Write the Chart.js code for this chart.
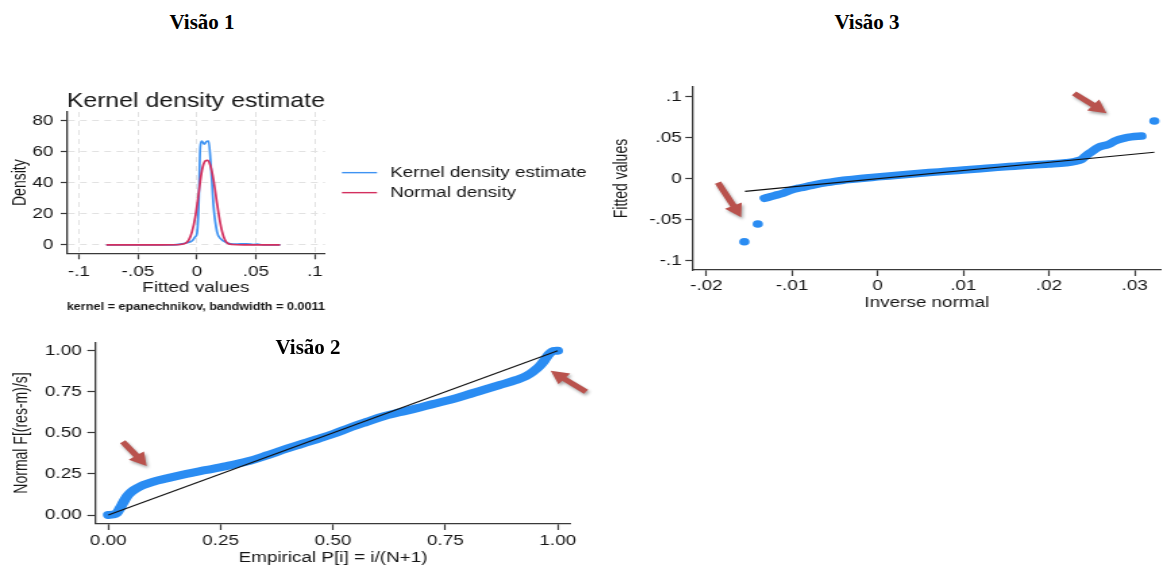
<!DOCTYPE html>
<html><head><meta charset="utf-8">
<script src="https://cdn.jsdelivr.net/npm/chart.js@4.4.1/dist/chart.umd.min.js"></script>
<style>
html,body{margin:0;padding:0;background:#fff;}
body{width:1166px;height:568px;overflow:hidden;position:relative;}
.panel{position:absolute;transform-origin:0 0;transform:scaleX(1.35);}
.panel canvas{display:block;}
.cap{position:absolute;font:bold 21px 'Liberation Serif','Times New Roman',serif;color:#000;line-height:24px;white-space:nowrap;transform:translateX(-50%);}
</style></head>
<body>
<div class="panel" style="left:0;top:60px;"><canvas id="c1" width="444" height="260"></canvas></div>
<div class="panel" style="left:600px;top:80px;"><canvas id="c3" width="419" height="240"></canvas></div>
<div class="panel" style="left:0;top:330px;"><canvas id="c2" width="444" height="238"></canvas></div>
<div class="cap" style="left:202px;top:10px;">Visão 1</div>
<div class="cap" style="left:867px;top:10px;">Visão 3</div>
<div class="cap" style="left:308px;top:335px;">Visão 2</div>
<script>
// ---------- DATA ----------
// Visão 1: kernel density
const kdeX = [-0.0768,-0.05,-0.02,-0.014,-0.0085,-0.004,-0.0014,0,0.0014,0.0028,0.004,0.0062,0.0085,0.0099,0.0119,0.0141,0.017,0.0198,0.0254,0.031,0.037,0.042,0.048,0.051,0.056,0.0705];
const kdeY = [0,0,0,0.4,1.3,2.6,5.2,7.3,24.5,63,67,65,66.9,67,50,24.5,8.4,4.1,1.3,0.4,0.6,0.6,0.2,0.4,0,0];
const normX = [-0.0768,-0.03,-0.014,-0.0099,-0.007,-0.0042,-0.0014,0.0014,0.0042,0.0071,0.009,0.0113,0.0141,0.017,0.0198,0.0226,0.0254,0.0297,0.04,0.0705];
const normY = [0,0,0.2,0.9,3,8.4,18,33,48,54.2,54.6,51.4,41.7,26.7,13.8,5.2,1.3,0.2,0,0];
const kdeXTicks = [-0.1,-0.05,0,0.05,0.1];
const kdeXLabels = ['-.1','-.05','0','.05','.1'];
const kdeYTicks = [0,20,40,60,80];
const kdeYLabels = ['0','20','40','60','80'];

// Visão 3: qnorm
const qBandX = [-0.0132,-0.012,-0.011,-0.010,-0.009,-0.008,-0.007,-0.006,-0.005,-0.004,-0.003,-0.002,-0.001,0,0.002,0.004,0.006,0.008,0.010,0.012,0.014,0.016,0.018,0.020,0.022,0.023,0.0238,0.0242,0.025,0.0257,0.027,0.0277,0.0288,0.0296,0.0308];
const qBandY = [-0.0239,-0.0205,-0.0175,-0.0135,-0.011,-0.0088,-0.0066,-0.0048,-0.0032,-0.0018,-0.0008,0.0002,0.0012,0.0022,0.0040,0.0058,0.0075,0.0090,0.0106,0.0122,0.0138,0.0153,0.0168,0.0180,0.0195,0.0210,0.0235,0.027,0.033,0.038,0.042,0.046,0.0495,0.051,0.052];
const qOutX = [-0.01557,-0.0140,0.0323];
const qOutY = [-0.0768,-0.0552,0.0704];
const qRefX = [-0.0155,0.0323];
const qRefY = [-0.0155,0.0323];
const qXTicks = [-0.02,-0.01,0,0.01,0.02,0.03];
const qXLabels = ['-.02','-.01','0','.01','.02','.03'];
const qYTicks = [-0.1,-0.05,0,0.05,0.1];
const qYLabels = ['-.1','-.05','0','.05','.1'];

// Visão 2: pnorm
const pBandX = [0,0.01,0.019,0.026,0.033,0.041,0.052,0.063,0.078,0.1,0.13,0.174,0.219,0.263,0.308,0.352,0.397,0.43,0.464,0.5,0.537,0.574,0.611,0.648,0.685,0.722,0.759,0.797,0.834,0.871,0.908,0.93,0.945,0.96,0.971,0.981,0.99,1.0];
const pBandY = [0,0.003,0.012,0.041,0.075,0.111,0.142,0.162,0.183,0.203,0.223,0.25,0.274,0.298,0.325,0.362,0.404,0.432,0.461,0.493,0.531,0.566,0.600,0.625,0.649,0.675,0.700,0.730,0.761,0.791,0.822,0.846,0.872,0.907,0.943,0.980,0.998,1.0];
const pRefX = [0,1];
const pRefY = [0,1];
const pTicks = [0,0.25,0.5,0.75,1];
const pLabels = ['0.00','0.25','0.50','0.75','1.00'];

// arrows (data coordinates: tail x, tail y, tip x, tip y)
const q3Arrows = [[-0.01865,-0.0049,-0.01594,-0.0471],[0.02292,0.1041,0.02673,0.0798]];
const p2Arrows = [[0.032,0.446,0.0854,0.298],[1.063,0.750,0.9844,0.878]];

// ---------- STYLE ----------
const FONT = "'Liberation Sans', Arial, Helvetica, sans-serif";
const TXT = '#161616';
const AXC = '#3a3a3a';
const BLUE = '#2a8cf2';
const KBLUE = '#3f93f2';
const KRED = '#d3305f';
const ARROW = '#b9524d';

const pts = (xs, ys) => xs.map((x, i) => ({x: x, y: ys[i]}));

function mkScale(o) {
  return {
    type: 'linear', position: o.pos, min: o.min, max: o.max,
    afterBuildTicks(s) { s.ticks = o.ticks.map(v => ({value: v})); },
    afterFit(s) {
      if (o.pos === 'left') s.width = o.size; else s.height = o.size;
      s.paddingTop = 0; s.paddingBottom = 0; s.paddingLeft = 0; s.paddingRight = 0;
    },
    ticks: {autoSkip: false, maxRotation: 0, minRotation: 0, padding: o.pad, color: TXT,
      font: {family: FONT, size: 14}, callback: (v, i) => o.labels[i]},
    grid: {display: true, drawOnChartArea: !!o.grid, color: '#e2e2e2', lineWidth: 1,
      drawTicks: true, tickLength: o.tick, tickColor: AXC, tickWidth: 1.2, tickBorderDash: []},
    border: {display: true, color: AXC, width: 1.3, dash: o.grid ? [5, 4] : []},
    title: {display: true, text: o.title, color: TXT, font: {family: FONT, size: 14},
      padding: o.pos === 'left' ? {top: o.tpad, bottom: 0} : {top: 0, bottom: o.tpad}}
  };
}

const arrowPlugin = {
  id: 'arrows',
  afterDraw(chart, args, opts) {
    const list = opts.list || [];
    const ctx = chart.ctx, xs = chart.scales.x, ys = chart.scales.y;
    ctx.save();
    ctx.fillStyle = ARROW;
    ctx.shadowColor = 'rgba(0,0,0,0.35)';
    ctx.shadowBlur = 3; ctx.shadowOffsetX = 1.2; ctx.shadowOffsetY = 2;
    list.forEach(a => {
      const x1 = xs.getPixelForValue(a[0]), y1 = ys.getPixelForValue(a[1]);
      const x2 = xs.getPixelForValue(a[2]), y2 = ys.getPixelForValue(a[3]);
      const dx = x2 - x1, dy = y2 - y1, L = Math.hypot(dx, dy);
      const ux = dx / L, uy = dy / L, nx = -uy, ny = ux;
      const hl = 13, hw = 7, sw = 2.5;
      const bx = x2 - ux * hl, by = y2 - uy * hl;
      ctx.beginPath();
      ctx.moveTo(x1 + nx * sw, y1 + ny * sw);
      ctx.lineTo(bx + nx * sw, by + ny * sw);
      ctx.lineTo(bx + nx * hw, by + ny * hw);
      ctx.lineTo(x2, y2);
      ctx.lineTo(bx - nx * hw, by - ny * hw);
      ctx.lineTo(bx - nx * sw, by - ny * sw);
      ctx.lineTo(x1 - nx * sw, y1 - ny * sw);
      ctx.closePath();
      ctx.fill();
    });
    ctx.restore();
  }
};

const sideLegend = {
  id: 'sideLegend',
  afterDraw(chart, args, opts) {
    if (!opts.show) return;
    const ctx = chart.ctx, a = chart.chartArea;
    const cy = (a.top + a.bottom) / 2;
    chart.data.datasets.forEach((d, i) => {
      const y = cy + (i - 0.5) * opts.gap;
      ctx.save();
      ctx.strokeStyle = d.borderColor; ctx.lineWidth = 1.4;
      ctx.beginPath(); ctx.moveTo(a.right + opts.x0, y); ctx.lineTo(a.right + opts.x1, y); ctx.stroke();
      ctx.fillStyle = TXT; ctx.font = '14px ' + FONT; ctx.textBaseline = 'middle'; ctx.textAlign = 'left';
      ctx.fillText(d.label, a.right + opts.tx, y);
      ctx.restore();
    });
  }
};

const base = {responsive: false, animation: false, devicePixelRatio: 1, events: []};

// ---------- Visão 1 ----------
new Chart(document.getElementById('c1'), {
  type: 'scatter',
  data: {datasets: [
    {label: 'Kernel density estimate', data: pts(kdeX, kdeY), showLine: true, borderColor: KBLUE,
     backgroundColor: KBLUE, borderWidth: 1.7, pointRadius: 0, cubicInterpolationMode: 'monotone', order: 1, clip: false},
    {label: 'Normal density', data: pts(normX, normY), showLine: true, borderColor: KRED,
     backgroundColor: KRED, borderWidth: 1.7, pointRadius: 0, cubicInterpolationMode: 'monotone', order: 0, clip: false}
  ]},
  options: Object.assign({}, base, {
    layout: {padding: {left: 0, right: 203.3, top: 0, bottom: 0}},
    scales: {
      x: mkScale({pos: 'bottom', min: -0.1104, max: 0.1085, ticks: kdeXTicks, labels: kdeXLabels,
        size: 43.4, pad: 4, tick: 6, grid: true, title: 'Fitted values', tpad: 0}),
      y: mkScale({pos: 'left', min: -5.5, max: 85.8, ticks: kdeYTicks, labels: kdeYLabels,
        size: 49.4, pad: 5.5, tick: 4.4, grid: true, title: 'Density', tpad: 6.4})
    },
    plugins: {
      legend: {display: false}, tooltip: {enabled: false},
      title: {display: true, text: 'Kernel density estimate', fullSize: false, align: 'center', color: TXT,
        font: {family: FONT, size: 20.3, weight: 'normal', lineHeight: 1.0}, padding: {top: 31.5, bottom: 0.2}},
      subtitle: {display: true, position: 'bottom', text: 'kernel = epanechnikov, bandwidth = 0.0011',
        fullSize: false, align: 'start', color: TXT,
        font: {family: FONT, size: 10.2, weight: 'bold', lineHeight: 1.2}, padding: {top: 3.88, bottom: 7.18}},
      sideLegend: {show: true, x0: 12.6, x1: 38.6, tx: 48.2, gap: 20}
    }
  }),
  plugins: [sideLegend]
});

// ---------- Visão 3 ----------
new Chart(document.getElementById('c3'), {
  type: 'scatter',
  data: {datasets: [
    {label: 'Reference', data: pts(qRefX, qRefY), showLine: true, borderColor: '#111', borderWidth: 1.1,
     pointRadius: 0, order: 0, clip: false},
    {label: 'Fitted values', data: pts(qBandX, qBandY), showLine: true, borderColor: BLUE, borderWidth: 7.5,
     borderCapStyle: 'round', borderJoinStyle: 'round', pointRadius: 0, cubicInterpolationMode: 'monotone', order: 1, clip: false},
    {label: 'Extremes', data: pts(qOutX, qOutY), showLine: false, backgroundColor: BLUE, borderColor: BLUE,
     borderWidth: 0, pointRadius: 3.8, order: 2, clip: false}
  ]},
  options: Object.assign({}, base, {
    layout: {padding: {left: 0, right: 0, top: 7, bottom: 8.6}},
    scales: {
      x: mkScale({pos: 'bottom', min: -0.02153, max: 0.03299, ticks: qXTicks, labels: qXLabels,
        size: 41.4, pad: 1.6, tick: 6, grid: false, title: 'Inverse normal', tpad: 0}),
      y: mkScale({pos: 'left', min: -0.1113, max: 0.1118, ticks: qYTicks, labels: qYLabels,
        size: 69.1, pad: 2.7, tick: 5.9, grid: false, title: 'Fitted values', tpad: 7.7})
    },
    plugins: {legend: {display: false}, tooltip: {enabled: false}, arrows: {list: q3Arrows}}
  }),
  plugins: [arrowPlugin]
});

// ---------- Visão 2 ----------
new Chart(document.getElementById('c2'), {
  type: 'scatter',
  data: {datasets: [
    {label: 'Reference', data: pts(pRefX, pRefY), showLine: true, borderColor: '#111', borderWidth: 1.1,
     pointRadius: 0, order: 0, clip: false},
    {label: 'Normal F', data: pts(pBandX, pBandY), showLine: true, borderColor: BLUE, borderWidth: 8,
     borderCapStyle: 'round', borderJoinStyle: 'round', pointRadius: 0, cubicInterpolationMode: 'monotone', order: 1, clip: false}
  ]},
  options: Object.assign({}, base, {
    layout: {padding: {left: 0, right: 21.8, top: 12.7, bottom: 1.9}},
    scales: {
      x: mkScale({pos: 'bottom', min: -0.0274, max: 1.0274, ticks: pTicks, labels: pLabels,
        size: 42.8, pad: 2.3, tick: 6.7, grid: false, title: 'Empirical P[i] = i/(N+1)', tpad: 0}),
      y: mkScale({pos: 'left', min: -0.0505, max: 1.0487, ticks: pTicks, labels: pLabels,
        size: 71.1, pad: 4.2, tick: 6.4, grid: false, title: 'Normal F[(res-m)/s]', tpad: 8.2})
    },
    plugins: {legend: {display: false}, tooltip: {enabled: false}, arrows: {list: p2Arrows}}
  }),
  plugins: [arrowPlugin]
});
</script>
</body></html>
